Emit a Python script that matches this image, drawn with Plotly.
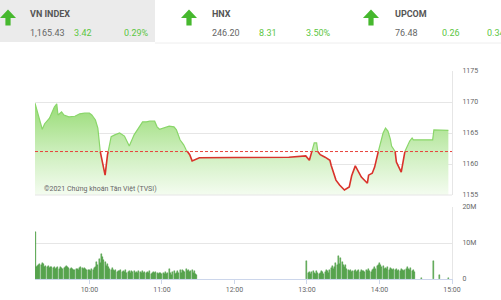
import plotly.graph_objects as go
import pandas as pd

DAY = "2021-06-01 "
REF = 1162.01

# ---- price data (time, index value) ----
price_times = ["09:15","09:21","09:23","09:27","09:31","09:33","09:34","09:37","09:39","09:43",
               "09:48","09:52","09:56","10:00","10:02","10:05","10:07","10:08","10:09","10:11",
               "10:13","10:15","10:17","10:18","10:21","10:25","10:29","10:33","10:37","10:41",
               "10:44","10:47","10:50","10:54","10:56","10:58","11:02","11:06","11:10","11:12",
               "11:15","11:18","11:20","11:23","11:25","11:28","11:31","12:00","12:45","12:59",
               "13:02","13:04","13:06","13:08","13:09","13:11","13:15","13:19","13:20","13:22",
               "13:24","13:27","13:31","13:35","13:37","13:40","13:42","13:45","13:50","13:51",
               "13:54","13:56","13:59","14:01","14:03","14:05","14:07","14:09","14:10","14:13",
               "14:14","14:18","14:19","14:21","14:24","14:25","14:27","14:28","14:44","14:45",
               "14:57"]
price_vals = [1169.8,1165.6,1166.5,1167.4,1169.2,1169.7,1167.9,1168.4,1167.9,1167.6,
              1167.7,1168.1,1168.2,1168.2,1167.9,1167.1,1165.8,1163.9,1162.0,1159.8,
              1158.2,1161.5,1163.4,1164.4,1164.7,1165.0,1164.5,1162.9,1164.7,1166.0,
              1166.8,1166.8,1166.9,1166.9,1166.0,1165.6,1165.8,1166.1,1166.0,1165.5,
              1163.9,1163.1,1162.3,1161.5,1160.5,1160.8,1161.0,1161.05,1161.1,1161.3,
              1160.6,1162.0,1163.4,1163.4,1162.0,1161.5,1161.1,1160.6,1159.8,1158.7,
              1157.4,1156.6,1155.8,1156.3,1158.1,1159.7,1159.0,1157.9,1156.9,1158.2,
              1158.5,1159.5,1162.0,1163.7,1165.0,1165.8,1165.3,1164.0,1162.9,1162.0,
              1160.3,1158.7,1159.8,1162.0,1163.2,1163.7,1164.2,1163.9,1163.9,1165.5,
              1165.43]

# ---- volume data (millions of shares per minute) ----
vol_morning = [13.0,
    3.2,3.6,3.9,4.3,3.8,4.5,4.1,3.4,3.7,3.2,3.5,3.0,3.3,3.4,
    3.1,3.2,2.9,3.0,3.3,2.8,3.2,3.0,2.9,3.1,3.4,3.6,3.2,3.0,2.8,
    3.1,2.7,2.6,2.5,2.9,2.7,2.4,3.0,3.2,3.1,2.9,3.0,2.8,2.6,2.5,
    2.4,2.2,2.8,2.6,3.0,3.4,4.6,3.8,5.6,4.4,6.9,6.0,5.2,4.6,3.6,
    4.2,3.2,2.8,2.5,3.0,2.4,2.2,2.6,2.0,2.3,2.1,2.5,1.9,2.2,2.0,
    2.4,1.8,2.0,2.3,1.7,2.1,1.9,2.2,1.8,2.0,1.6,2.1,1.9,1.8,2.2,
    1.7,2.0,1.6,1.9,1.8,2.1,1.5,1.8,2.0,1.6,1.9,1.7,1.5,1.8,1.6,
    1.4,1.7,1.5,2.0,1.3,1.8,2.8,1.6,1.2,1.9,2.3,1.5,1.8,2.2,1.7,
    2.4,1.6,2.6,2.1,1.9,2.7,2.3,2.5,2.0,2.2,2.6,1.8,2.1,1.5,1.2]
vol_afternoon = [
    5.1,1.6,2.0,1.4,1.9,2.3,1.7,1.5,2.1,1.8,1.3,1.6,2.2,1.9,1.5,
    2.0,2.4,2.1,1.8,2.6,3.0,3.6,2.8,3.4,4.4,3.8,6.5,4.2,5.8,4.6,
    3.8,3.3,4.0,2.7,2.5,2.2,2.4,2.0,2.3,2.1,2.4,1.9,2.2,2.6,2.0,
    2.4,2.1,2.3,1.9,2.6,2.2,2.8,2.3,2.0,2.5,2.9,3.2,2.7,3.6,3.9,
    4.4,4.0,3.3,3.6,2.9,3.1,2.7,3.2,2.6,3.0,2.8,2.5,2.9,2.4,2.7,
    2.3,2.6,2.2,2.8,2.4,2.1,2.5,2.7,3.3,2.9,2.4,3.1,2.2,2.6,2.0]
vol_late_times = ["14:35","14:45","14:50","14:57"]
vol_late_vals = [0.4,5.0,1.1,0.3]

# header values
indices = ["VN INDEX", "HNX", "UPCOM"]
idx_values = ["1,165.43", "246.20", "76.48"]
idx_change = ["3.42", "8.31", "0.26"]
idx_pct = ["0.29%", "3.50%", "0.34%"]

price_ticks = [1155, 1160, 1165, 1170, 1175]
vol_tickvals = [0, 10, 20]
vol_ticktext = ["0", "10M", "20M"]
time_ticks = ["10:00", "11:00", "12:00", "13:00", "14:00", "15:00"]

# ---------------------------------------------------------------
W, H = 501, 300
def px(x):
    return x / W
def py(y):
    return 1 - y / H

t_price = pd.to_datetime([DAY + t for t in price_times])
tn = [t.value for t in t_price]

# split line into above / below reference segments (insert crossing points)
dt, dv = [], []
for i in range(len(tn)):
    if i > 0:
        a, b = price_vals[i-1], price_vals[i]
        if (a - REF) * (b - REF) < 0:
            f = (REF - a) / (b - a)
            dt.append(tn[i-1] + f * (tn[i] - tn[i-1]))
            dv.append(REF)
    dt.append(tn[i])
    dv.append(price_vals[i])
dtime = pd.to_datetime(dt)
green = [v if v >= REF - 1e-9 else None for v in dv]
red = [v if v <= REF + 1e-9 else None for v in dv]

t_morning = pd.date_range(DAY + "09:15", periods=len(vol_morning), freq="1min")
t_after = pd.date_range(DAY + "13:00", periods=len(vol_afternoon), freq="1min")
t_late = pd.to_datetime([DAY + t for t in vol_late_times])
vol_t = list(t_morning) + list(t_after) + list(t_late)
vol_v = vol_morning + vol_afternoon + vol_late_vals

fig = go.Figure()
fig.add_trace(go.Scatter(x=dtime, y=[1155]*len(dtime), mode="lines",
                         line=dict(width=0), hoverinfo="skip", showlegend=False,
                         xaxis="x", yaxis="y"))
fig.add_trace(go.Scatter(x=dtime, y=dv, mode="lines", line=dict(width=0),
                         fill="tonexty",
                         fillgradient=dict(type="vertical", start=1155, stop=1170,
                                           colorscale=[[0, "rgb(244,252,240)"],
                                                       [0.45, "rgb(206,239,190)"],
                                                       [1, "rgb(150,219,115)"]]),
                         showlegend=False, xaxis="x", yaxis="y"))
fig.add_trace(go.Scatter(x=dtime, y=green, mode="lines",
                         line=dict(color="#8ad66a", width=1.2), connectgaps=False,
                         showlegend=False, xaxis="x", yaxis="y"))
fig.add_trace(go.Scatter(x=dtime, y=red, mode="lines",
                         line=dict(color="#d9322b", width=1.6), connectgaps=False,
                         showlegend=False, xaxis="x", yaxis="y"))
fig.add_trace(go.Bar(x=vol_t, y=vol_v, width=50000,
                     marker=dict(color="#5cb152", line=dict(color="#3e8e37", width=0.4)),
                     showlegend=False, xaxis="x2", yaxis="y2"))

xr = [pd.Timestamp(DAY + "09:15"), pd.Timestamp(DAY + "15:00")]
grid = "#e6e6e6"
tickfont = dict(family="Roboto", size=7, color="#666")

fig.update_layout(
    width=W, height=H, margin=dict(l=0, r=0, t=0, b=0),
    paper_bgcolor="white", plot_bgcolor="white", bargap=0,
    xaxis=dict(domain=[px(35), px(452)], range=xr, showticklabels=False,
               showgrid=False, zeroline=False, anchor="y", automargin=False),
    yaxis=dict(domain=[py(195), py(71)], range=[1155, 1175], side="right",
               tickvals=price_ticks, showgrid=True, gridcolor=grid, zeroline=False,
               showline=True, linecolor=grid, mirror=False, ticks="",
               ticklabelstandoff=8, tickfont=tickfont, anchor="x", automargin=False),
    xaxis2=dict(domain=[px(35), px(452)], range=xr, showgrid=False, zeroline=False,
                tickvals=pd.to_datetime([DAY + t for t in time_ticks]),
                ticktext=time_ticks, ticks="outside", ticklen=4,
                tickcolor="#ccd6eb", showline=True, linecolor="#ccd6eb",
                tickfont=tickfont, anchor="y2", automargin=False),
    yaxis2=dict(domain=[py(279), py(207)], range=[0, 20], side="right",
                tickvals=vol_tickvals, ticktext=vol_ticktext, showgrid=True,
                gridcolor=grid, zeroline=False, showline=True, linecolor=grid,
                ticks="", ticklabelstandoff=8, tickfont=tickfont, anchor="x2",
                automargin=False),
)

shapes = []
# price panel bottom border
shapes.append(dict(type="line", xref="x domain", yref="y domain", x0=0, x1=1, y0=0, y1=0,
                   line=dict(color=grid, width=1)))
# reference line
shapes.append(dict(type="line", xref="x domain", yref="y", x0=0, x1=1, y0=REF, y1=REF,
                   line=dict(color="#e8433c", width=1, dash="3px,2px")))
# header background
shapes.append(dict(type="rect", xref="paper", yref="paper", x0=0, x1=px(155),
                   y0=py(42), y1=1, fillcolor="#ebebeb", line=dict(width=0), layer="below"))
shapes.append(dict(type="line", xref="paper", yref="paper", x0=px(155), x1=1,
                   y0=py(43), y1=py(43), line=dict(color="#eeeeee", width=1)))

def arrow(cx):
    pts = [(cx, 9.5), (cx + 8, 18), (cx + 2.6, 18), (cx + 2.6, 25.5),
           (cx - 2.6, 25.5), (cx - 2.6, 18), (cx - 8, 18)]
    d = "M " + " L ".join(f"{px(x):.5f},{py(y):.5f}" for x, y in pts) + " Z"
    return dict(type="path", xref="paper", yref="paper", path=d,
                fillcolor="#46b82e", line=dict(width=0))

for cx in [8, 189, 371]:
    shapes.append(arrow(cx))
fig.update_layout(shapes=shapes)

hdr_x = [28, 210, 393]
chg_x = [72, 257, 440]
pct_x = [122, 304, 485]
ann = []
for i in range(3):
    ann.append(dict(x=px(hdr_x[i]), y=py(13.5), xref="paper", yref="paper",
                    text=f"<b>{indices[i]}</b>", showarrow=False, xanchor="left",
                    yanchor="middle", font=dict(family="Roboto", size=9, color="#555")))
    ann.append(dict(x=px(hdr_x[i]), y=py(33), xref="paper", yref="paper",
                    text=idx_values[i], showarrow=False, xanchor="left",
                    yanchor="middle", font=dict(family="Roboto", size=9, color="#666")))
    ann.append(dict(x=px(chg_x[i]), y=py(33), xref="paper", yref="paper",
                    text=idx_change[i], showarrow=False, xanchor="left",
                    yanchor="middle", font=dict(family="Roboto", size=9, color="#5cc63f")))
    ann.append(dict(x=px(pct_x[i]), y=py(33), xref="paper", yref="paper",
                    text=idx_pct[i], showarrow=False, xanchor="left",
                    yanchor="middle", font=dict(family="Roboto", size=9, color="#5cc63f")))
ann.append(dict(x=px(42), y=py(189), xref="paper", yref="paper",
                text="©2021 Chứng khoán Tân Việt (TVSI)", showarrow=False,
                xanchor="left", yanchor="middle",
                font=dict(family="Roboto", size=7, color="#666")))
fig.update_layout(annotations=ann)

fig.write_html("out.html")
